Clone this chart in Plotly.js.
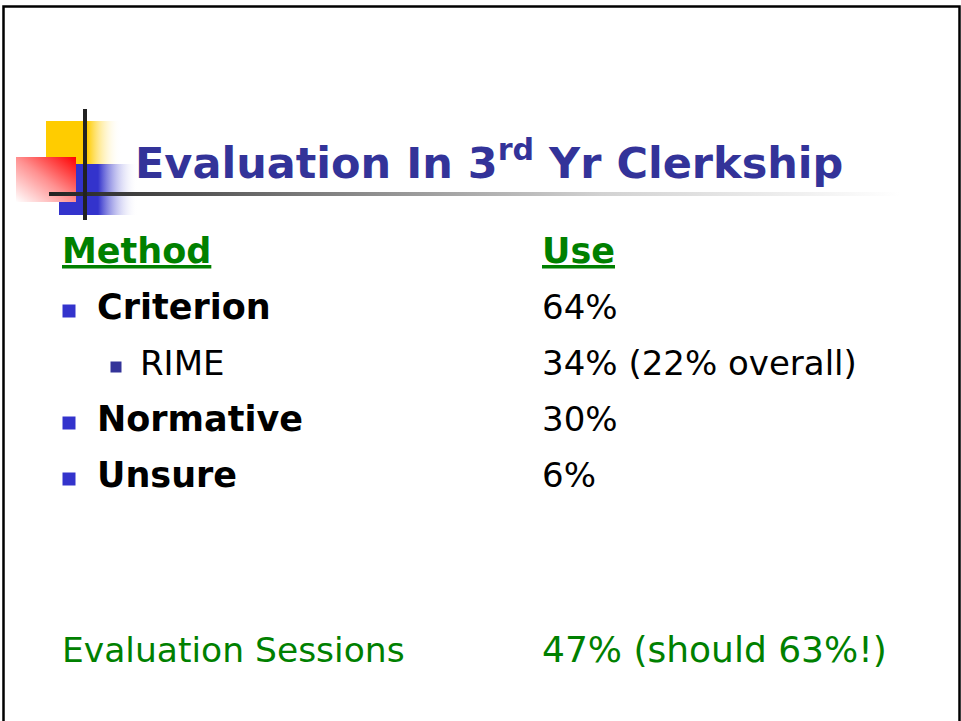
<!DOCTYPE html>
<html><head><meta charset="utf-8">
<script src="https://cdn.plot.ly/plotly-3.0.1.min.js"></script>
<style>html,body{margin:0;padding:0;background:#fff;overflow:hidden}</style>
</head><body><div id="chart" style="width:961px;height:721px"></div>
<script>
// ---- content ----
const titleText = "Evaluation In 3<sup>rd</sup> Yr Clerkship";
const headerMethod = "Method";
const headerUse = "Use";
const methods = ["Criterion", "RIME", "Normative", "Unsure"];
const uses = ["64%", "34% (22% overall)", "30%", "6%"];
const levels = [0, 1, 0, 0];
const footerLabel = "Evaluation Sessions";
const footerValue = "47% (should 63%!)";

// ---- layout constants ----
const W = 961, H = 721;
const col1 = 62, col2 = 542;
const textX = [97, 140];
const bulletX = [69, 116];
const bulletSize = [13, 11];
const bulletColor = ["#3333cc", "#333399"];
const row0 = 319, rowStep = 56;
const boldFont = "DejaVu Sans";
const regFont = "DejaVu Sans";
const green = "#008000";
const K = 0.25; // baseline offset for 'middle' text

function yFor(baseline, fs) { return baseline - K * fs; }

const traces = [];
function textTrace(xs, ys, texts, family, size, color, weight) {
  traces.push({
    type: "scatter", mode: "text", x: xs, y: ys, text: texts,
    textposition: "middle right", hoverinfo: "skip", cliponaxis: false,
    showlegend: false,
    textfont: {family: family, size: size, color: color, weight: weight || "normal"}
  });
}

// Title
textTrace([135], [yFor(178, 43)], [titleText], boldFont, 43, "#333399", "bold");
// Headers
textTrace([col1, col2], [yFor(263, 35), yFor(263, 35)],
  ["<u>" + headerMethod + "</u>", "<u>" + headerUse + "</u>"], boldFont, 35, green, "bold");

// Rows
const baselines = methods.map((m, i) => row0 + i * rowStep);
const mainIdx = methods.map((m, i) => i).filter(i => levels[i] === 0);
const subIdx = methods.map((m, i) => i).filter(i => levels[i] === 1);

textTrace(mainIdx.map(i => textX[0]), mainIdx.map(i => yFor(baselines[i], 35)),
  mainIdx.map(i => methods[i]), boldFont, 35, "#000000", "bold");
textTrace(subIdx.map(i => textX[1]), subIdx.map(i => yFor(baselines[i], 34)),
  subIdx.map(i => methods[i]), regFont, 34, "#000000");
textTrace(methods.map(() => col2), methods.map((m, i) => yFor(baselines[i], 34)),
  uses, regFont, 34, "#000000");

// Bullets
[0, 1].forEach(lv => {
  const idx = methods.map((m, i) => i).filter(i => levels[i] === lv);
  traces.push({
    type: "scatter", mode: "markers", hoverinfo: "skip", showlegend: false,
    x: idx.map(() => bulletX[lv]), y: idx.map(i => baselines[i] - 8),
    marker: {symbol: "square", size: bulletSize[lv], color: bulletColor[lv], line: {width: 0}},
    cliponaxis: false
  });
});

// Footer
textTrace([col1], [yFor(662, 34.5)], [footerLabel], regFont, 34.5, green);
textTrace([col2], [yFor(662, 36)], [footerValue], regFont, 36, green);

// ---- decoration (logo, rule, frame) ----
const svg = `<svg xmlns='http://www.w3.org/2000/svg' width='961' height='721' viewBox='0 0 961 721'>
<defs>
<linearGradient id='yg' x1='0' y1='0' x2='1' y2='0'><stop offset='0' stop-color='#ffcc00'/><stop offset='1' stop-color='#ffffff' stop-opacity='0'/></linearGradient>
<linearGradient id='bg' x1='0' y1='0' x2='1' y2='0'><stop offset='0' stop-color='#3333cc'/><stop offset='1' stop-color='#ffffff' stop-opacity='0'/></linearGradient>
<linearGradient id='rg' x1='1' y1='0' x2='0' y2='1'><stop offset='0' stop-color='#ff0000'/><stop offset='0.5' stop-color='#ff9090'/><stop offset='1' stop-color='#ffffff'/></linearGradient>
<linearGradient id='lg' x1='0' y1='0' x2='1' y2='0'><stop offset='0' stop-color='#222222'/><stop offset='0.3' stop-color='#7a7a7a'/><stop offset='0.65' stop-color='#d2d2d2'/><stop offset='1' stop-color='#ffffff'/></linearGradient>
</defs>
<rect x='46' y='121' width='41' height='44' fill='#ffcc00'/>
<rect x='87' y='121' width='34' height='44' fill='url(#yg)'/>
<rect x='59' y='164' width='39' height='51' fill='#3333cc'/>
<rect x='98' y='164' width='40' height='51' fill='url(#bg)'/>
<rect x='16' y='157' width='60' height='45' fill='url(#rg)'/>
<rect x='49' y='192' width='851' height='4' fill='url(#lg)'/>
<rect x='83' y='109' width='4' height='111' fill='#222222'/>
<path d='M3.5 730 V6.5 H959.5 V730' fill='none' stroke='#000' stroke-width='2.5'/>
</svg>`;

const layout = {
  width: W, height: H,
  margin: {l: 0, r: 0, t: 0, b: 0, pad: 0},
  paper_bgcolor: "#ffffff", plot_bgcolor: "rgba(0,0,0,0)",
  xaxis: {range: [0, W], visible: false, fixedrange: true, showgrid: false, zeroline: false},
  yaxis: {range: [H, 0], visible: false, fixedrange: true, showgrid: false, zeroline: false},
  showlegend: false,
  images: [{
    source: "data:image/svg+xml;charset=utf-8," + encodeURIComponent(svg),
    xref: "paper", yref: "paper", x: 0, y: 1, sizex: 1, sizey: 1,
    xanchor: "left", yanchor: "top", sizing: "stretch", layer: "below"
  }]
};

Plotly.newPlot("chart", traces, layout, {staticPlot: true, displayModeBar: false});
</script>
</body></html>
